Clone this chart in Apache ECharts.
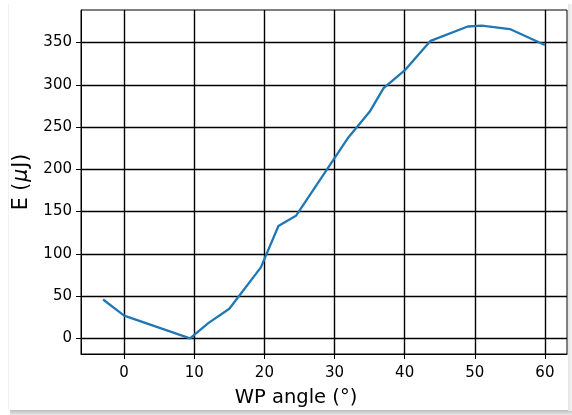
<!DOCTYPE html>
<html>
<head>
<meta charset="utf-8">
<script src="https://cdn.jsdelivr.net/npm/echarts@6/dist/echarts.min.js"></script>
<style>
html,body{margin:0;padding:0;background:#fff;}
#chart{width:572px;height:415px;}
</style>
</head>
<body>
<div id="chart"></div>
<script>
// Data
var wpAngle = [-3, 0, 9.4, 12, 15, 19.5, 22, 24.5, 32, 35, 37, 40, 43.7, 49, 51, 55, 60];
var energy  = [46, 27, 0, 18, 35, 84, 133, 145, 238, 268, 296, 317, 352, 369, 370, 366, 347];
var xTicks = [0, 10, 20, 30, 40, 50, 60];
var yTicks = [0, 50, 100, 150, 200, 250, 300, 350];
var xLabel = 'WP angle (°)';
var yLabelParts = ['E (', 'μ', 'J)'];

var FONT = 'DejaVu Sans';
var chart = echarts.init(document.getElementById('chart'), null, {renderer: 'canvas'});
var pts = wpAngle.map(function (a, i) { return [a, energy[i]]; });

chart.setOption({
  backgroundColor: '#ffffff',
  animation: false,
  graphic: [
    {type: 'rect', shape: {x: 10, y: 410, width: 562, height: 5},
     style: {fill: new echarts.graphic.LinearGradient(0, 0, 0, 1, [{offset: 0, color: '#bdbdbd'}, {offset: 1, color: '#e8e8e8'}])}, silent: true, z: -10},
    {type: 'rect', shape: {x: 568, y: 4, width: 4, height: 407},
     style: {fill: new echarts.graphic.LinearGradient(0, 0, 1, 0, [{offset: 0, color: '#e4e4e4'}, {offset: 1, color: '#f4f4f4'}])}, silent: true, z: -10},
    {type: 'line', shape: {x1: 8.5, y1: 4, x2: 8.5, y2: 410}, style: {stroke: '#f1f1f1', lineWidth: 1}, silent: true, z: -10}
  ],
  grid: {left: 81, right: 5, top: 10, bottom: 61, show: true, borderColor: '#000', borderWidth: 1, backgroundColor: 'transparent'},
  xAxis: {
    type: 'value',
    min: -6.15, max: 63.15,
    name: xLabel,
    nameLocation: 'middle',
    nameGap: 34,
    nameTextStyle: {fontFamily: FONT, fontSize: 19.5, color: '#000', padding: [0, 56, 0, 0]},
    axisLine: {show: true, onZero: false, lineStyle: {color: '#000', width: 1}},
    axisTick: {show: true, length: 5, customValues: xTicks, lineStyle: {color: '#000', width: 1}},
    axisLabel: {show: true, customValues: xTicks, margin: 12, fontFamily: FONT, fontSize: 15, color: '#000'},
    splitLine: {show: true, lineStyle: {color: '#000', width: 1.4}}
  },
  yAxis: {
    type: 'value',
    min: -18.5, max: 388.5,
    name: '{a|' + yLabelParts[0] + '}{b|' + yLabelParts[1] + '}{a|' + yLabelParts[2] + '}',
    nameLocation: 'middle',
    nameGap: 37,
    nameTextStyle: {
      fontFamily: FONT, fontSize: 20.5, color: '#000',
      rich: {
        a: {fontFamily: FONT, fontSize: 20.5, color: '#000'},
        b: {fontFamily: FONT, fontSize: 20.5, fontStyle: 'italic', color: '#000', padding: [0, 1, 0, 1]}
      }
    },
    axisLine: {show: true, onZero: false, lineStyle: {color: '#000', width: 1}},
    axisTick: {show: true, length: 5, customValues: yTicks, lineStyle: {color: '#000', width: 1}},
    axisLabel: {show: true, customValues: yTicks, margin: 9, fontFamily: FONT, fontSize: 15, color: '#000'},
    splitLine: {show: true, lineStyle: {color: '#000', width: 1.4}}
  },
  series: [{
    type: 'line',
    data: pts,
    showSymbol: false,
    symbol: 'none',
    lineStyle: {color: '#1f77b4', width: 2.3},
    clip: true
  }]
});
</script>
</body>
</html>
